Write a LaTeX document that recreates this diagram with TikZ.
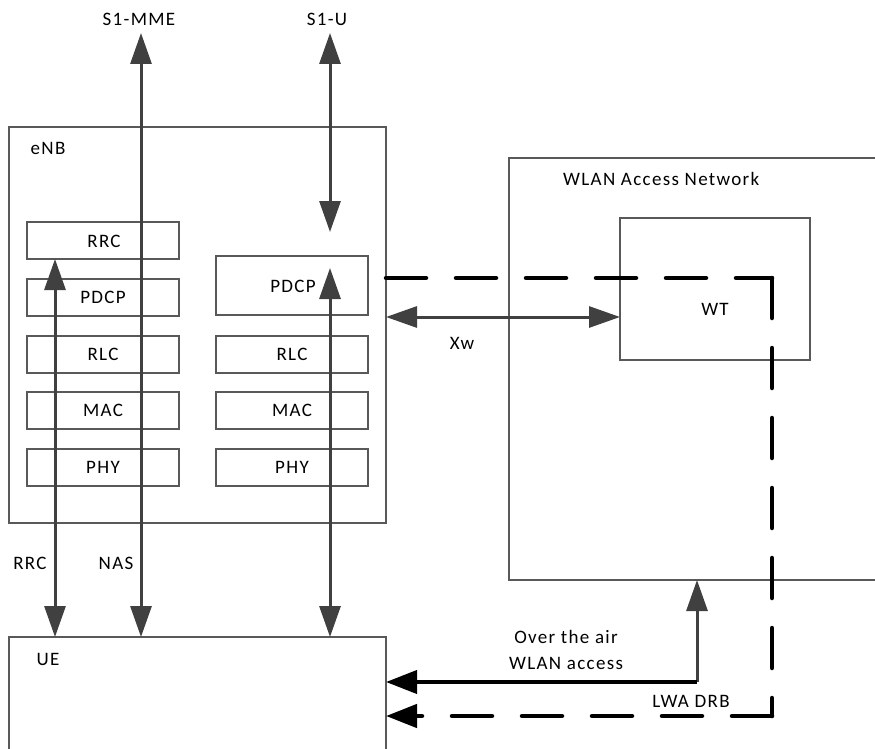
\documentclass[tikz,border=0pt]{standalone}
\usepackage{fontspec}
\setmainfont{Carlito}[LetterSpace=7]
\usetikzlibrary{arrows.meta}
\definecolor{boxgray}{HTML}{595959}
\definecolor{arrgray}{HTML}{404040}
\tikzset{
  box/.style={draw=boxgray, line width=1.3pt, rectangle, inner sep=0pt, outer sep=0pt, anchor=north west},
  lbl/.style={inner sep=0pt, font=\fontsize{19}{26}\selectfont, text=black},
  garrow/.style={draw=arrgray, line width=3pt, {Triangle[length=31pt,width=21pt]}-{Triangle[length=31pt,width=21pt]}},
  garrowone/.style={draw=arrgray, line width=3pt, -{Triangle[length=31pt,width=21pt]}},
  blackarrow/.style={draw=black, line width=4pt, -{Triangle[length=31pt,width=23pt]}},
  dashline/.style={draw=black, line width=4.5pt, line cap=round, dash pattern=on 40pt off 30pt},
  dasharrow/.style={dashline, -{Triangle[length=31pt,width=23pt]}},
}
\begin{document}
\begin{tikzpicture}[x=1pt,y=-1pt]
\useasboundingbox (0,0) rectangle (875,749);
\clip (0,0) rectangle (875,749);
% main boxes
\node[box, minimum width=377pt, minimum height=396pt] (enb) at (9,127) {};
\node[box, minimum width=377pt, minimum height=140pt] (ue) at (9,637) {};
\node[box, minimum width=400pt, minimum height=422pt] (wlan) at (509,158) {};
\node[box, minimum width=190pt, minimum height=142pt] (wt) at (620,218) {};
% left stack
\node[box, minimum width=152pt, minimum height=37pt] (lrrc) at (27,222) {};
\node[box, minimum width=152pt, minimum height=37pt] (lpdcp) at (27,279) {};
\node[box, minimum width=152pt, minimum height=37pt] (lrlc) at (27,336) {};
\node[box, minimum width=152pt, minimum height=37pt] (lmac) at (27,392) {};
\node[box, minimum width=152pt, minimum height=37pt] (lphy) at (27,449) {};
% right stack
\node[box, minimum width=152pt, minimum height=59pt] (rpdcp) at (216,256) {};
\node[box, minimum width=152pt, minimum height=37pt] (rrlc) at (216,336) {};
\node[box, minimum width=152pt, minimum height=37pt] (rmac) at (216,392) {};
\node[box, minimum width=152pt, minimum height=37pt] (rphy) at (216,449) {};
% box texts
\node[lbl] (tlrrc) at (104,241) {RRC};
\node[lbl] (tlpdcp) at (lpdcp.center) {PDCP};
\node[lbl] (tlrlc) at (lrlc.center) {RLC};
\node[lbl] (tlmac) at (lmac.center) {MAC};
\node[lbl] (tlphy) at (lphy.center) {PHY};
\node[lbl] (trpdcp) at (293,286) {PDCP};
\node[lbl] (trrlc) at (rrlc.center) {RLC};
\node[lbl] (trmac) at (rmac.center) {MAC};
\node[lbl] (trphy) at (rphy.center) {PHY};
% labels
\node[lbl] (s1mme) at (139,19) {S1-MME};
\node[lbl] (s1u) at (327,19) {S1-U};
\node[lbl] (tenb) at (48,148) {eNB};
\node[lbl, anchor=west] (twlan) at (563,179) {WLAN Access Network};
\node[lbl] (twt) at (715,309) {WT};
\node[lbl] (txw) at (462,343) {Xw};
\node[lbl] (trrc) at (30,563) {RRC};
\node[lbl] (tnas) at (116,563) {NAS};
\node[lbl] (tue) at (48,659) {UE};
\node[lbl, align=center] (tair) at (566,650) {Over the air\\WLAN access};
\node[lbl] (tdrb) at (691,701) {LWA DRB};
% coordinates for vertical connectors
\coordinate (xrrc) at (55,0);
\coordinate (xnas) at (141,0);
\coordinate (xu) at (330,0);
\coordinate (topy) at (0,33);
\coordinate (s1ubot) at (330,232);
\coordinate (pdcptip) at (330,268);
\coordinate (corner) at (697,682);
\coordinate (dashA) at (772,278);
\coordinate (dashB) at (772,716);
% gray arrows
\draw[garrow] (lrrc.south -| xrrc) -- (ue.north -| xrrc);
\draw[garrow] (topy -| xnas) -- (ue.north -| xnas);
\draw[garrow] (topy -| xu) -- (s1ubot);
\draw[garrow] (pdcptip) -- (ue.north -| xu);
\draw[garrow] (enb.east |- 0,317) -- (wt.west |- 0,317);
% WLAN access
\draw[garrowone] (corner) -- (wlan.south -| corner);
\draw[blackarrow] (corner) -- (ue.east |- corner);
% LWA DRB dashed path
\draw[dashline] (enb.east |- dashA) -- (dashA);
\draw[dashline] (dashA) -- (dashB);
\draw[dasharrow] (dashB) -- (ue.east |- dashB);
\end{tikzpicture}
\end{document}
